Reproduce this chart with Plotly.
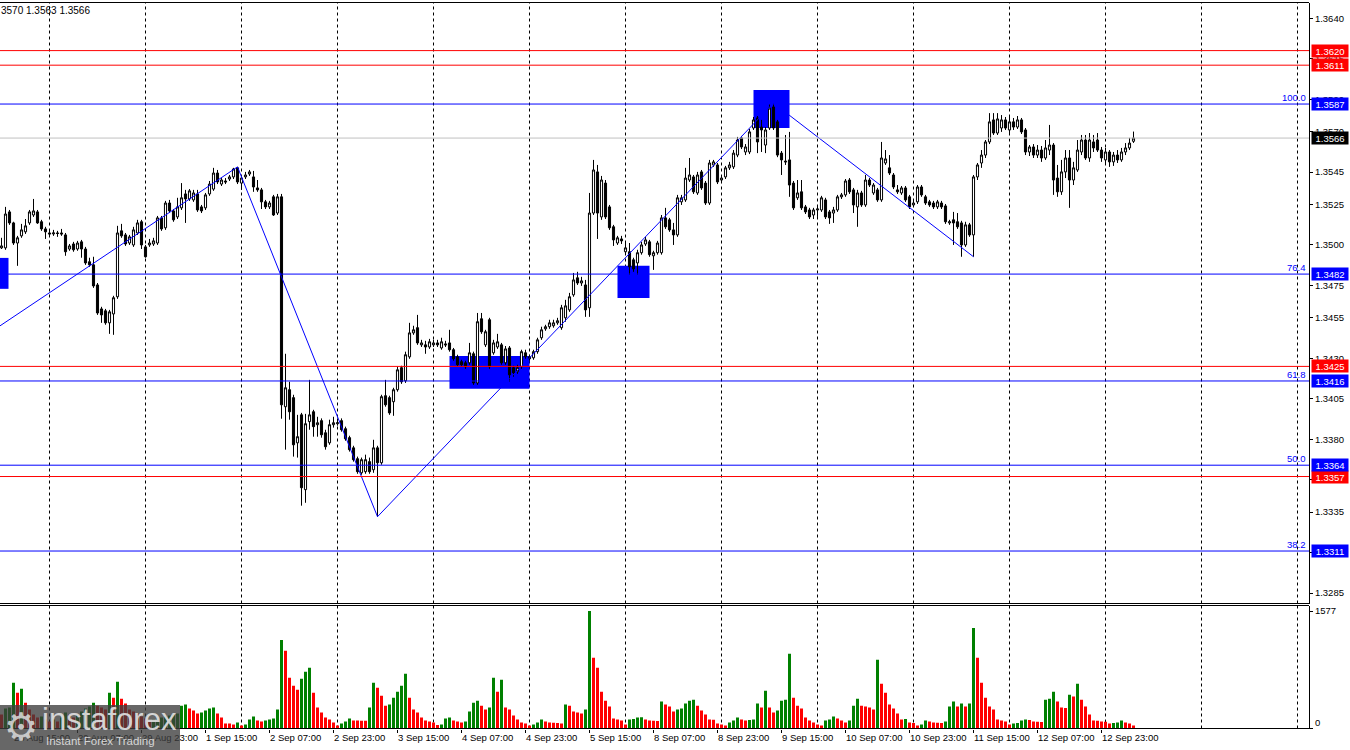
import pandas as pd
import plotly.graph_objects as go

# ---------------- data ----------------
# hourly bars (market closed at weekends): 28 Aug 12:00 .. 15 Sep 07:00
_hours = pd.date_range("2025-08-28 12:00", "2025-09-15 07:00", freq="h")
bar_times = _hours[_hours.weekday < 5]

opens = [
    1.34982, 1.34982, 1.35204, 1.35136, 1.35012, 1.35056, 1.35081, 1.35136, 1.35185, 1.35204,
    1.35143, 1.35099, 1.35074, 1.35068, 1.35074, 1.35074, 1.35062, 1.34975, 1.35006, 1.34975,
    1.35019, 1.34975, 1.34896, 1.34877, 1.34753, 1.34605, 1.34593, 1.34519, 1.34574, 1.34680,
    1.35087, 1.35062, 1.35012, 1.35000, 1.35074, 1.35143, 1.34988, 1.35000, 1.35006, 1.35012,
    1.35167, 1.35106, 1.35259, 1.35210, 1.35173, 1.35229, 1.35315, 1.35284, 1.35278, 1.35315,
    1.35235, 1.35229, 1.35315, 1.35345, 1.35444, 1.35376, 1.35395, 1.35407, 1.35420, 1.35476,
    1.35382, 1.35420, 1.35438, 1.35420, 1.35352, 1.35340, 1.35266, 1.35235, 1.35297, 1.35197,
    1.35297, 1.34001, 1.34106, 1.34057, 1.33778, 1.33951, 1.33489, 1.33909, 1.33970, 1.33890,
    1.33915, 1.33840, 1.33778, 1.33890, 1.33896, 1.33915, 1.33865, 1.33810, 1.33747, 1.33680,
    1.33593, 1.33600, 1.33662, 1.33612, 1.33747, 1.33655, 1.34069, 1.34057, 1.34032, 1.34106,
    1.34242, 1.34161, 1.34309, 1.34457, 1.34489, 1.34383, 1.34383, 1.34370, 1.34383, 1.34395,
    1.34364, 1.34389, 1.34395, 1.34353, 1.34309, 1.34279, 1.34272, 1.34272, 1.34328, 1.34148,
    1.34544, 1.34383, 1.34538, 1.34334, 1.34370, 1.34383, 1.34272, 1.34364, 1.34242, 1.34217,
    1.34248, 1.34334, 1.34309, 1.34303, 1.34341, 1.34427, 1.34482, 1.34495, 1.34501, 1.34519,
    1.34489, 1.34550, 1.34599, 1.34692, 1.34797, 1.34765, 1.34753, 1.34612, 1.35197, 1.35451,
    1.35173, 1.35382, 1.35235, 1.35112, 1.35012, 1.35037, 1.34958, 1.34958, 1.34908, 1.34889,
    1.34952, 1.35006, 1.35019, 1.34933, 1.34952, 1.34952, 1.35167, 1.35155, 1.35093, 1.35062,
    1.35266, 1.35278, 1.35401, 1.35420, 1.35321, 1.35451, 1.35382, 1.35259, 1.35494, 1.35494,
    1.35401, 1.35420, 1.35476, 1.35482, 1.35555, 1.35661, 1.35574, 1.35574, 1.35722, 1.35784,
    1.35728, 1.35617, 1.35722, 1.35852, 1.35760, 1.35567, 1.35518, 1.35525, 1.35382, 1.35291,
    1.35328, 1.35235, 1.35216, 1.35185, 1.35216, 1.35216, 1.35278, 1.35204, 1.35197, 1.35216,
    1.35297, 1.35309, 1.35401, 1.35340, 1.35235, 1.35321, 1.35247, 1.35401, 1.35321, 1.35340,
    1.35278, 1.35506, 1.35476, 1.35432, 1.35340, 1.35321, 1.35352, 1.35297, 1.35247, 1.35266,
    1.35358, 1.35297, 1.35266, 1.35259, 1.35235, 1.35259, 1.35241, 1.35136, 1.35155, 1.35143,
    1.35136, 1.35000, 1.35124, 1.35062, 1.35420, 1.35506, 1.35555, 1.35636, 1.35772, 1.35691,
    1.35722, 1.35772, 1.35710, 1.35760, 1.35728, 1.35772, 1.35710, 1.35574, 1.35605, 1.35555,
    1.35586, 1.35537, 1.35586, 1.35617, 1.35413, 1.35328, 1.35451, 1.35537, 1.35401, 1.35463,
    1.35574, 1.35648, 1.35537, 1.35636, 1.35648, 1.35586, 1.35525, 1.35574, 1.35513, 1.35555,
    1.35525, 1.35574, 1.35599, 1.35640,
]
highs = [
    1.35044, 1.35235, 1.35216, 1.35143, 1.35056, 1.35130, 1.35160, 1.35216, 1.35284, 1.35216,
    1.35155, 1.35112, 1.35093, 1.35093, 1.35087, 1.35099, 1.35074, 1.35006, 1.35019, 1.35025,
    1.35031, 1.34988, 1.34921, 1.34927, 1.34765, 1.34618, 1.34605, 1.34599, 1.34686, 1.35118,
    1.35130, 1.35074, 1.35062, 1.35112, 1.35155, 1.35155, 1.35000, 1.35037, 1.35044, 1.35179,
    1.35179, 1.35272, 1.35278, 1.35222, 1.35291, 1.35382, 1.35340, 1.35345, 1.35340, 1.35340,
    1.35247, 1.35321, 1.35395, 1.35476, 1.35463, 1.35413, 1.35413, 1.35432, 1.35476, 1.35482,
    1.35426, 1.35451, 1.35463, 1.35457, 1.35401, 1.35352, 1.35278, 1.35272, 1.35309, 1.35315,
    1.35315, 1.34328, 1.34155, 1.34075, 1.33951, 1.33963, 1.33957, 1.34167, 1.33982, 1.33939,
    1.33929, 1.33859, 1.33921, 1.33939, 1.33929, 1.33929, 1.33878, 1.33822, 1.33760, 1.33693,
    1.33687, 1.33705, 1.33687, 1.33797, 1.33760, 1.34075, 1.34167, 1.34069, 1.34118, 1.34248,
    1.34254, 1.34341, 1.34519, 1.34501, 1.34568, 1.34414, 1.34408, 1.34420, 1.34414, 1.34414,
    1.34427, 1.34408, 1.34476, 1.34364, 1.34322, 1.34291, 1.34285, 1.34395, 1.34341, 1.34580,
    1.34580, 1.34476, 1.34550, 1.34414, 1.34451, 1.34395, 1.34376, 1.34376, 1.34254, 1.34260,
    1.34353, 1.34353, 1.34322, 1.34353, 1.34427, 1.34495, 1.34507, 1.34538, 1.34538, 1.34550,
    1.34630, 1.34661, 1.34704, 1.34827, 1.34834, 1.34803, 1.34784, 1.35321, 1.35525, 1.35494,
    1.35426, 1.35401, 1.35247, 1.35124, 1.35056, 1.35056, 1.35012, 1.35012, 1.34921, 1.34970,
    1.35019, 1.35050, 1.35031, 1.34964, 1.35025, 1.35185, 1.35229, 1.35167, 1.35136, 1.35309,
    1.35309, 1.35476, 1.35537, 1.35432, 1.35451, 1.35463, 1.35395, 1.35525, 1.35525, 1.35506,
    1.35426, 1.35488, 1.35513, 1.35586, 1.35667, 1.35673, 1.35623, 1.35716, 1.35790, 1.35796,
    1.35772, 1.35728, 1.35870, 1.35876, 1.35772, 1.35580, 1.35679, 1.35698, 1.35395, 1.35401,
    1.35401, 1.35247, 1.35229, 1.35229, 1.35247, 1.35303, 1.35291, 1.35216, 1.35235, 1.35309,
    1.35321, 1.35407, 1.35413, 1.35352, 1.35340, 1.35334, 1.35432, 1.35413, 1.35382, 1.35352,
    1.35636, 1.35586, 1.35555, 1.35444, 1.35370, 1.35364, 1.35364, 1.35309, 1.35278, 1.35370,
    1.35370, 1.35309, 1.35278, 1.35272, 1.35278, 1.35272, 1.35253, 1.35155, 1.35204, 1.35197,
    1.35149, 1.35143, 1.35136, 1.35432, 1.35506, 1.35586, 1.35648, 1.35814, 1.35814, 1.35814,
    1.35802, 1.35790, 1.35790, 1.35784, 1.35796, 1.35784, 1.35722, 1.35617, 1.35623, 1.35617,
    1.35611, 1.35648, 1.35741, 1.35629, 1.35494, 1.35525, 1.35586, 1.35586, 1.35513, 1.35648,
    1.35679, 1.35679, 1.35691, 1.35679, 1.35691, 1.35605, 1.35599, 1.35586, 1.35574, 1.35586,
    1.35599, 1.35629, 1.35661, 1.35700,
]
lows = [
    1.34975, 1.34970, 1.35124, 1.35000, 1.34871, 1.35044, 1.35068, 1.35124, 1.35173, 1.35130,
    1.35087, 1.35037, 1.35050, 1.35056, 1.35050, 1.35056, 1.34933, 1.34964, 1.34958, 1.34964,
    1.34921, 1.34877, 1.34865, 1.34735, 1.34568, 1.34519, 1.34507, 1.34451, 1.34445, 1.34667,
    1.35044, 1.34994, 1.35000, 1.34988, 1.35062, 1.34975, 1.34921, 1.34988, 1.34994, 1.35000,
    1.35087, 1.35093, 1.35197, 1.35143, 1.35160, 1.35216, 1.35136, 1.35272, 1.35266, 1.35204,
    1.35197, 1.35216, 1.35303, 1.35334, 1.35376, 1.35364, 1.35376, 1.35395, 1.35407, 1.35376,
    1.35340, 1.35407, 1.35426, 1.35328, 1.35328, 1.35222, 1.35222, 1.35222, 1.35179, 1.35185,
    1.33927, 1.33736, 1.33921, 1.33693, 1.33687, 1.33390, 1.33408, 1.33859, 1.33816, 1.33816,
    1.33810, 1.33736, 1.33766, 1.33872, 1.33884, 1.33847, 1.33791, 1.33724, 1.33662, 1.33587,
    1.33581, 1.33587, 1.33587, 1.33593, 1.33322, 1.33643, 1.34001, 1.33951, 1.33945, 1.34094,
    1.34142, 1.34148, 1.34297, 1.34445, 1.34383, 1.34370, 1.34328, 1.34358, 1.34370, 1.34370,
    1.34353, 1.34370, 1.34341, 1.34285, 1.34248, 1.34248, 1.34235, 1.34260, 1.34136, 1.34136,
    1.34451, 1.34370, 1.34235, 1.34322, 1.34358, 1.34260, 1.34260, 1.34155, 1.34186, 1.34204,
    1.34235, 1.34297, 1.34285, 1.34291, 1.34328, 1.34414, 1.34470, 1.34482, 1.34489, 1.34507,
    1.34476, 1.34526, 1.34587, 1.34680, 1.34753, 1.34747, 1.34556, 1.34556, 1.35185, 1.35037,
    1.35155, 1.35160, 1.35093, 1.34994, 1.35000, 1.35006, 1.34946, 1.34815, 1.34834, 1.34815,
    1.34940, 1.34994, 1.34927, 1.34846, 1.34940, 1.34940, 1.35099, 1.35081, 1.35000, 1.35050,
    1.35247, 1.35266, 1.35389, 1.35315, 1.35309, 1.35340, 1.35247, 1.35247, 1.35482, 1.35376,
    1.35382, 1.35407, 1.35463, 1.35469, 1.35542, 1.35592, 1.35555, 1.35561, 1.35710, 1.35567,
    1.35574, 1.35567, 1.35710, 1.35710, 1.35542, 1.35432, 1.35494, 1.35297, 1.35216, 1.35278,
    1.35216, 1.35191, 1.35160, 1.35160, 1.35173, 1.35204, 1.35160, 1.35130, 1.35136, 1.35204,
    1.35284, 1.35297, 1.35315, 1.35197, 1.35112, 1.35235, 1.35235, 1.35358, 1.35309, 1.35266,
    1.35266, 1.35494, 1.35432, 1.35345, 1.35315, 1.35309, 1.35266, 1.35222, 1.35235, 1.35253,
    1.35297, 1.35247, 1.35235, 1.35222, 1.35222, 1.35222, 1.35130, 1.35124, 1.35000, 1.35099,
    1.34927, 1.34988, 1.35050, 1.34927, 1.35401, 1.35476, 1.35537, 1.35623, 1.35679, 1.35679,
    1.35698, 1.35710, 1.35691, 1.35710, 1.35716, 1.35685, 1.35555, 1.35549, 1.35537, 1.35537,
    1.35513, 1.35525, 1.35555, 1.35309, 1.35297, 1.35309, 1.35413, 1.35229, 1.35370, 1.35451,
    1.35555, 1.35525, 1.35513, 1.35574, 1.35574, 1.35513, 1.35494, 1.35482, 1.35488, 1.35506,
    1.35513, 1.35555, 1.35586, 1.35630,
]
closes = [
    1.34994, 1.35191, 1.35136, 1.35012, 1.35044, 1.35093, 1.35118, 1.35204, 1.35210, 1.35136,
    1.35099, 1.35081, 1.35068, 1.35074, 1.35071, 1.35068, 1.34958, 1.34994, 1.34970, 1.35012,
    1.34975, 1.34889, 1.34877, 1.34747, 1.34580, 1.34568, 1.34519, 1.34587, 1.34674, 1.35074,
    1.35056, 1.35006, 1.35050, 1.35093, 1.35136, 1.35000, 1.34927, 1.35012, 1.35025, 1.35167,
    1.35099, 1.35259, 1.35210, 1.35155, 1.35235, 1.35291, 1.35284, 1.35334, 1.35321, 1.35216,
    1.35210, 1.35309, 1.35376, 1.35444, 1.35389, 1.35401, 1.35389, 1.35420, 1.35469, 1.35389,
    1.35413, 1.35432, 1.35451, 1.35358, 1.35340, 1.35266, 1.35235, 1.35259, 1.35185, 1.35297,
    1.34013, 1.34118, 1.33970, 1.33766, 1.33816, 1.33501, 1.33896, 1.33951, 1.33878, 1.33902,
    1.33828, 1.33754, 1.33890, 1.33902, 1.33902, 1.33859, 1.33803, 1.33736, 1.33674, 1.33600,
    1.33674, 1.33674, 1.33600, 1.33747, 1.33655, 1.34063, 1.34013, 1.33963, 1.34106, 1.34229,
    1.34155, 1.34322, 1.34457, 1.34476, 1.34395, 1.34395, 1.34370, 1.34402, 1.34395, 1.34383,
    1.34402, 1.34383, 1.34353, 1.34297, 1.34260, 1.34260, 1.34248, 1.34334, 1.34148, 1.34526,
    1.34464, 1.34464, 1.34248, 1.34395, 1.34402, 1.34272, 1.34358, 1.34198, 1.34211, 1.34242,
    1.34341, 1.34309, 1.34297, 1.34341, 1.34414, 1.34476, 1.34495, 1.34519, 1.34519, 1.34532,
    1.34612, 1.34624, 1.34680, 1.34784, 1.34765, 1.34778, 1.34599, 1.35197, 1.35463, 1.35197,
    1.35401, 1.35173, 1.35106, 1.35031, 1.35044, 1.35025, 1.34982, 1.34865, 1.34852, 1.34952,
    1.35000, 1.35031, 1.34940, 1.34952, 1.35012, 1.35167, 1.35112, 1.35093, 1.35062, 1.35291,
    1.35291, 1.35413, 1.35432, 1.35328, 1.35432, 1.35352, 1.35259, 1.35506, 1.35513, 1.35389,
    1.35413, 1.35476, 1.35494, 1.35567, 1.35648, 1.35605, 1.35605, 1.35698, 1.35772, 1.35636,
    1.35710, 1.35710, 1.35845, 1.35722, 1.35555, 1.35525, 1.35513, 1.35370, 1.35229, 1.35321,
    1.35229, 1.35204, 1.35173, 1.35216, 1.35222, 1.35291, 1.35173, 1.35167, 1.35216, 1.35297,
    1.35309, 1.35395, 1.35328, 1.35247, 1.35321, 1.35247, 1.35401, 1.35370, 1.35370, 1.35278,
    1.35537, 1.35531, 1.35444, 1.35358, 1.35328, 1.35352, 1.35278, 1.35235, 1.35259, 1.35358,
    1.35309, 1.35259, 1.35247, 1.35235, 1.35266, 1.35235, 1.35143, 1.35143, 1.35136, 1.35112,
    1.35000, 1.35124, 1.35062, 1.35420, 1.35494, 1.35555, 1.35636, 1.35760, 1.35691, 1.35778,
    1.35772, 1.35722, 1.35760, 1.35728, 1.35772, 1.35698, 1.35574, 1.35605, 1.35555, 1.35586,
    1.35537, 1.35599, 1.35617, 1.35401, 1.35328, 1.35451, 1.35537, 1.35401, 1.35476, 1.35586,
    1.35648, 1.35537, 1.35648, 1.35599, 1.35586, 1.35537, 1.35574, 1.35513, 1.35555, 1.35525,
    1.35574, 1.35599, 1.35629, 1.35660,
]
volumes = [
    187, 267, 281, 615, 481, 534, 347, 254, 187, 147,
    160, 120, 94, 120, 94, 147, 214, 187, 147, 187,
    227, 267, 294, 347, 307, 281, 254, 481, 414, 628,
    401, 334, 254, 227, 200, 160, 134, 107, 120, 134,
    147, 160, 174, 187, 200, 307, 321, 267, 240, 200,
    214, 240, 267, 281, 200, 147, 67, 66, 53, 80,
    40, 53, 120, 160, 107, 94, 107, 120, 134, 254,
    1189, 1042, 681, 574, 521, 668, 762, 815, 481, 281,
    214, 147, 120, 80, 40, 67, 94, 134, 107, 106,
    105, 104, 281, 615, 548, 441, 307, 321, 414, 494,
    574, 735, 414, 254, 214, 147, 107, 94, 80, 47,
    53, 134, 147, 107, 94, 80, 94, 227, 347, 374,
    307, 254, 281, 681, 494, 655, 281, 254, 174, 120,
    80, 67, 40, 53, 80, 120, 94, 80, 77, 73,
    67, 321, 307, 227, 214, 200, 254, 1577, 949, 815,
    494, 374, 294, 134, 120, 107, 53, 120, 127, 147,
    150, 120, 107, 104, 102, 361, 321, 294, 227, 254,
    267, 334, 374, 387, 307, 240, 187, 120, 118, 67,
    53, 40, 80, 107, 147, 120, 107, 114, 120, 334,
    281, 508, 281, 214, 240, 374, 387, 1002, 414, 307,
    267, 147, 107, 80, 53, 40, 107, 120, 160, 134,
    107, 80, 107, 307, 401, 307, 294, 281, 254, 922,
    601, 481, 321, 267, 200, 120, 127, 80, 73, 40,
    53, 107, 94, 80, 77, 75, 94, 294, 361, 294,
    334, 294, 334, 1349, 949, 615, 414, 294, 254, 120,
    107, 94, 53, 67, 73, 107, 120, 114, 94, 91,
    88, 387, 401, 494, 361, 281, 274, 454, 428, 601,
    387, 294, 187, 107, 104, 94, 91, 67, 73, 80,
    107, 80, 67, 40,
]

red_levels = [1.3620, 1.3611, 1.3425, 1.3357]
fib_pcts = [100.0, 76.4, 61.8, 50.0, 38.2]
fib_levels = [1.3587, 1.3482, 1.3416, 1.3364, 1.3311]
price_ticks = [1.3640, 1.3615, 1.3590, 1.3570, 1.3545, 1.3525, 1.3500, 1.3475,
               1.3455, 1.3430, 1.3405, 1.3380, 1.3355, 1.3335, 1.3310, 1.3285]
volume_label = 1577

# zig-zag trend line pivots (bar number, price)
zigzag_bar = [-0.4, 59, 94, 193, 243]
zigzag_price = [1.34500, 1.35482, 1.33322, 1.35876, 1.34927]

# blue zones (bar from, bar to, price low, price high)
zone_bar_from = [-1, 112, 154, 188]
zone_bar_to = [1.75, 132, 162, 197]
zone_low = [1.34729, 1.34112, 1.34673, 1.35722]
zone_high = [1.34920, 1.34315, 1.34871, 1.35957]

# ---------------- geometry ----------------
W, H = 1350, 750
ML, MR, MT, MB = 0, 41, 2, 21
PW, PH = W - ML - MR, H - MT - MB


def px(x):
    return x / PW


def py(y):
    return (H - MB - y) / PH


FONT = "Liberation Sans, Arial, sans-serif"
FS = 9.5
BLUE, RED, GREEN = "#0000FF", "#FF0000", "#008000"

n = len(closes)
xs = list(range(n))
x_range = [-0.375, 326.875]

label_idx = list(range(3, n, 16))
label_txt = [f"{bar_times[i].day} {bar_times[i]:%b %H:%M}" for i in label_idx]

_ext = pd.date_range("2025-08-28 12:00", "2025-09-19 23:00", freq="h")
_ext = _ext[_ext.weekday < 5]
grid_idx = [i for i, t in enumerate(_ext) if t.hour == 0 and i <= x_range[1]]

vol_colors = [RED] + [GREEN if volumes[i] > volumes[i - 1] else RED for i in range(1, n)]

fig = go.Figure()
fig.add_trace(go.Candlestick(
    x=xs, open=opens, high=highs, low=lows, close=closes,
    increasing=dict(line=dict(color="black", width=1), fillcolor="white"),
    decreasing=dict(line=dict(color="black", width=1), fillcolor="black"),
    whiskerwidth=0, xaxis="x", yaxis="y", showlegend=False, hoverinfo="skip",
))
fig.add_trace(go.Scatter(
    x=zigzag_bar, y=zigzag_price, mode="lines", line=dict(color=BLUE, width=1),
    xaxis="x", yaxis="y", showlegend=False, hoverinfo="skip",
))
fig.add_trace(go.Bar(
    x=xs, y=volumes, marker=dict(color=vol_colors, line=dict(width=0)),
    xaxis="x", yaxis="y2", showlegend=False, hoverinfo="skip",
))

shapes = []
# zones (background objects)
for b0, b1, lo, hi in zip(zone_bar_from, zone_bar_to, zone_low, zone_high):
    shapes.append(dict(type="rect", xref="x", yref="y", x0=b0, x1=b1, y0=lo, y1=hi,
                       fillcolor=BLUE, line=dict(width=0), layer="below"))
# day separators
for g in grid_idx:
    for ref in ("y domain", "y2 domain"):
        shapes.append(dict(type="line", xref="x", yref=ref, x0=g, x1=g, y0=0, y1=1,
                           line=dict(color="black", width=1, dash="3px,3px"), layer="below"))
# panel borders
for ref, yy in (("y domain", 1), ("y domain", 0), ("y2 domain", 1), ("y2 domain", 0)):
    shapes.append(dict(type="line", xref="paper", yref=ref, x0=0, x1=1, y0=yy, y1=yy,
                       line=dict(color="black", width=1), layer="above"))
# horizontal levels
for lv in red_levels:
    shapes.append(dict(type="line", xref="paper", yref="y", x0=0, x1=1, y0=lv, y1=lv,
                       line=dict(color=RED, width=1), layer="above"))
for lv in fib_levels:
    shapes.append(dict(type="line", xref="paper", yref="y", x0=0, x1=1, y0=lv, y1=lv,
                       line=dict(color=BLUE, width=1), layer="above"))
last = closes[-1]
shapes.append(dict(type="line", xref="paper", yref="y", x0=0, x1=1, y0=last, y1=last,
                   line=dict(color="#C0C0C0", width=1), layer="above"))
# watermark box
shapes.append(dict(type="rect", xref="paper", yref="paper", x0=0, x1=px(180),
                   y0=py(752), y1=py(705), fillcolor="rgba(60,60,60,0.78)",
                   line=dict(width=0), layer="above"))

ann = []
for pct, lv in zip(fib_pcts, fib_levels):
    ann.append(dict(text=f"{pct:.1f}", xref="paper", yref="y", x=px(1307), y=lv,
                    xanchor="right", yanchor="bottom", showarrow=False, borderpad=0,
                    font=dict(family=FONT, size=FS, color=BLUE)))


def price_box(val, color):
    return dict(text=f"{val:.4f}", xref="paper", yref="y", x=px(1311), y=val,
                xanchor="left", yanchor="middle", showarrow=False, width=34, height=10,
                borderpad=1, bgcolor=color, align="center",
                font=dict(family=FONT, size=FS, color="white"))


for lv in red_levels:
    ann.append(price_box(lv, RED))
for lv in fib_levels:
    ann.append(price_box(lv, BLUE))
ann.append(price_box(last, "black"))

ann.append(dict(text="0", xref="paper", yref="y2", x=px(1314), y=0, xanchor="left",
                yanchor="bottom", showarrow=False, borderpad=0,
                font=dict(family=FONT, size=FS, color="black")))
header = f"{highs[-1]:.4f}"[2:] + f" {lows[-1]:.4f} {closes[-1]:.4f}"
ann.append(dict(text=header, xref="paper", yref="paper", x=0, y=py(10), xanchor="left",
                yanchor="middle", showarrow=False, borderpad=0,
                font=dict(family=FONT, size=FS + 0.5, color="black")))
# watermark texts
ann.append(dict(text="\u2699", xref="paper", yref="paper", x=px(21), y=py(727),
                xanchor="center", yanchor="middle", showarrow=False,
                font=dict(family="DejaVu Sans", size=38, color="rgba(215,215,215,0.9)")))
ann.append(dict(text="instaforex", xref="paper", yref="paper", x=px(40), y=py(719),
                xanchor="left", yanchor="middle", showarrow=False,
                font=dict(family=FONT, size=31, color="rgba(225,225,225,0.92)")))
ann.append(dict(text="Instant Forex Trading", xref="paper", yref="paper", x=px(44), y=py(741),
                xanchor="left", yanchor="middle", showarrow=False,
                font=dict(family=FONT, size=11.5, color="rgba(225,225,225,0.92)")))

fig.update_layout(
    width=W, height=H, margin=dict(l=ML, r=MR, t=MT, b=MB, autoexpand=False),
    paper_bgcolor="white", plot_bgcolor="white", showlegend=False,
    boxgap=0.25, bargap=0.25, shapes=shapes, annotations=ann,
    font=dict(family=FONT, size=FS, color="black"),
    xaxis=dict(domain=[0, 1], range=x_range, anchor="y2", tickmode="array",
               tickvals=label_idx, ticktext=label_txt, ticks="outside", ticklen=3,
               tickcolor="black", ticklabelposition="outside right", tickangle=0,
               automargin=False, showgrid=False,
               zeroline=False, showline=False, rangeslider=dict(visible=False),
               tickfont=dict(family=FONT, size=FS, color="black")),
    yaxis=dict(domain=[py(603.5), py(2.5)], range=[1.32786, 1.36497], anchor="x",
               side="right", tickmode="array", tickvals=price_ticks, automargin=False,
               ticktext=[f"{v:.4f}" for v in price_ticks], ticks="outside", ticklen=3,
               tickcolor="black", showgrid=False, zeroline=False, showline=True,
               linecolor="black", linewidth=1,
               tickfont=dict(family=FONT, size=FS, color="black")),
    yaxis2=dict(domain=[py(728.5), py(605.5)], range=[0, 1651], anchor="x", side="right",
                tickmode="array", tickvals=[0, volume_label], ticktext=["", str(volume_label)],
                automargin=False,
                ticks="outside", ticklen=3, tickcolor="black", showgrid=False,
                zeroline=False, showline=True, linecolor="black", linewidth=1,
                tickfont=dict(family=FONT, size=FS, color="black")),
)

fig.write_html(
    "out.html",
    config={"displayModeBar": False},
    post_script="document.body.style.margin='0';document.body.style.overflow='hidden';",
)
